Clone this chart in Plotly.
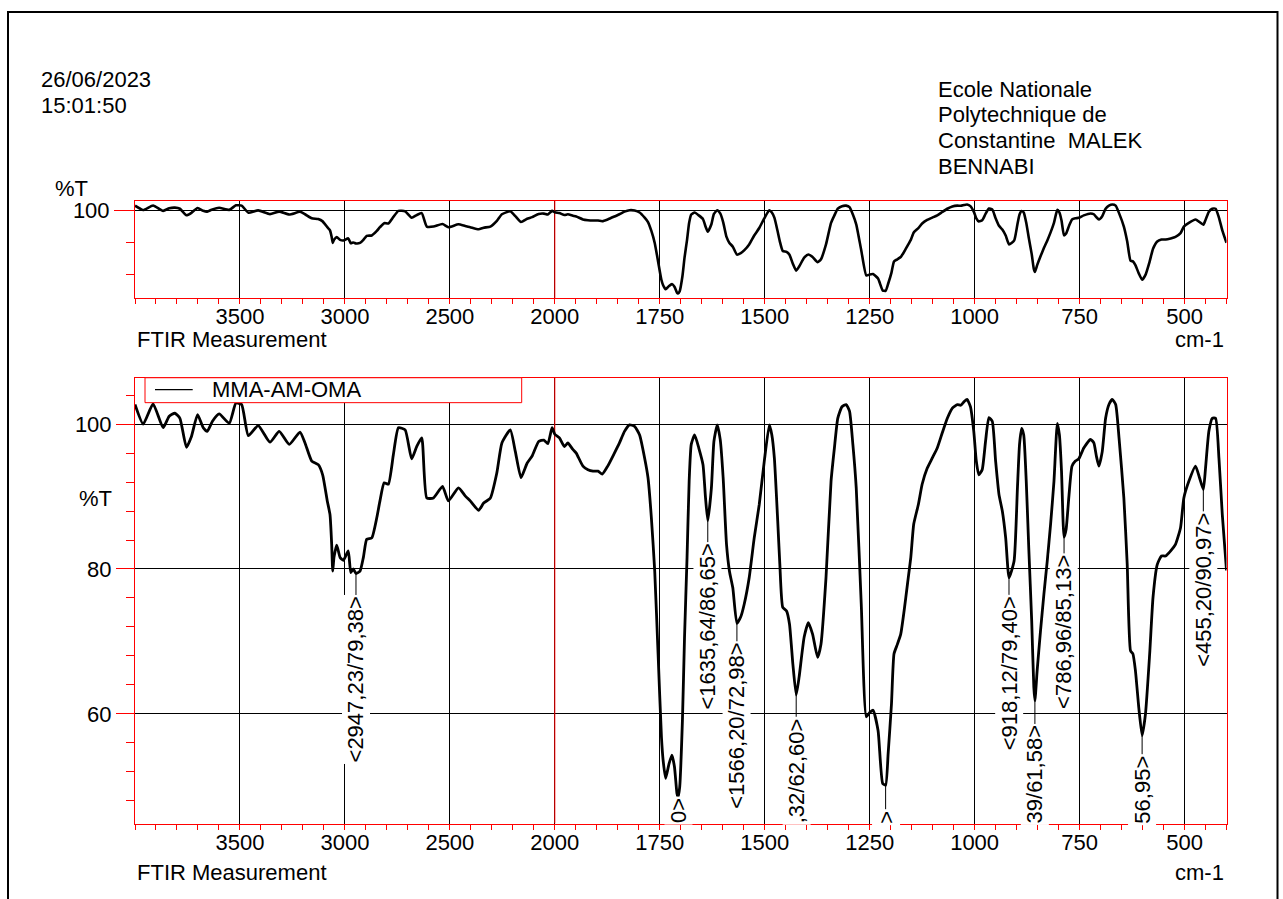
import plotly.graph_objects as go

# ---------------- data ----------------
wavenumber = [4000, 3961, 3914, 3866, 3837, 3810, 3786, 3755, 3731, 3702, 3675, 3656, 3631, 3599, 3551,
              3519, 3492, 3460, 3413, 3357, 3313, 3265, 3214, 3190, 3158, 3127, 3106, 3084, 3071, 3063,
              3058, 3052, 3039, 3023, 3007, 2984, 2972, 2960, 2947, 2928, 2912, 2896, 2872, 2848, 2833,
              2813, 2793, 2769, 2745, 2713, 2682, 2658, 2634, 2610, 2578, 2535, 2507, 2459, 2427, 2403,
              2363, 2339, 2307, 2276, 2252, 2212, 2188, 2161, 2132, 2108, 2077, 2052, 2033, 2013, 2000,
              1989, 1977, 1969, 1957, 1949, 1933, 1921, 1909, 1897, 1887, 1874, 1858, 1846, 1834, 1822,
              1810, 1798, 1786, 1778, 1770, 1762, 1754, 1746, 1742, 1736, 1728, 1721, 1715, 1709, 1706.5,
              1702.5, 1696, 1691, 1685, 1680, 1675, 1667, 1657, 1647, 1641, 1635.6, 1627, 1621, 1613, 1606,
              1599, 1591, 1584, 1576, 1566.2, 1557, 1549, 1537, 1525, 1513, 1501, 1489, 1483, 1477, 1469,
              1464, 1457, 1448, 1441, 1433, 1425, 1418, 1406, 1396, 1386, 1374, 1366, 1354, 1342, 1334,
              1326, 1316, 1306, 1298, 1290, 1282, 1270, 1258, 1250, 1242, 1230, 1219, 1212, 1206, 1198,
              1192, 1184, 1176, 1168, 1160, 1152, 1145, 1134, 1125, 1113, 1101, 1089, 1077, 1065, 1053,
              1041, 1033, 1025, 1018, 1010, 1002, 996, 990, 982, 974, 966, 958, 950, 942, 934,
              926, 918, 906, 898, 893, 888, 883, 877, 871, 864, 859, 856.4, 851, 843, 835,
              827, 819, 811, 803, 798, 793, 787, 782, 775, 768, 760, 752, 740, 724, 716,
              710, 704, 696, 688, 680, 672, 664, 656, 644.5, 636.5, 628.6, 623, 617, 609, 601,
              593, 583, 575, 565, 555, 545, 533, 521.5, 509.5, 501.6, 489.7, 473.8, 464.3, 455.2, 450,
              442, 434, 426, 418, 410, 400]
transmittance = [102.7, 100.0, 102.8, 99.5, 101.1, 101.5, 100.8, 96.8, 98.3, 101.3, 99.5, 99.0, 100.4, 101.4, 100.1,
                 102.9, 102.7, 98.4, 99.8, 97.5, 99.0, 97.2, 98.9, 97.4, 94.9, 94.4, 93.0, 89.4, 87.5, 83.4,
                 79.7, 81.6, 83.3, 81.6, 81.2, 82.5, 79.5, 80.0, 79.38, 79.7, 81.6, 84.1, 84.3, 87.1, 89.4,
                 91.9, 91.7, 95.8, 99.5, 99.2, 95.2, 96.9, 98.1, 89.8, 89.8, 91.4, 89.4, 91.2, 90.1, 89.4,
                 88.1, 89.1, 89.8, 93.3, 97.4, 99.2, 96.2, 92.6, 94.6, 95.6, 97.6, 97.8, 97.3, 99.5, 98.6,
                 98.1, 96.9, 97.4, 96.5, 96.0, 94.2, 93.7, 93.5, 93.5, 93.1, 94.2, 96.0, 97.4, 99.0, 99.9,
                 99.7, 98.5, 95.3, 92.6, 87.1, 79.7, 68.3, 56.8, 53.6, 51.1, 53.1, 54.3, 52.7, 49.0, 48.5,
                 49.9, 59.1, 70.6, 81.6, 92.1, 97.2, 98.5, 96.7, 94.4, 89.8, 86.65, 91.2, 97.6, 99.9, 97.9,
                 92.6, 83.4, 79.7, 77.4, 72.5, 73.4, 75.1, 78.8, 84.3, 88.9, 94.9, 99.9, 98.5, 95.3, 86.6,
                 80.7, 74.7, 74.2, 72.4, 66.9, 62.6, 65.1, 70.6, 72.6, 71.0, 67.8, 69.6, 78.8, 92.1, 96.7,
                 100.8, 102.4, 102.7, 101.8, 97.2, 91.2, 75.1, 59.6, 60.2, 60.5, 57.7, 50.4, 50.15, 54.5, 61.4,
                 68.3, 69.6, 71.0, 74.2, 77.9, 81.6, 86.2, 88.9, 91.7, 93.9, 95.3, 96.7, 98.8, 100.8, 102.2,
                 102.7, 102.6, 103.1, 103.4, 102.4, 99.0, 94.9, 93.0, 93.7, 97.6, 100.9, 100.4, 94.9, 90.3, 88.0,
                 84.3, 78.8, 81.1, 91.2, 97.2, 99.4, 98.5, 92.1, 82.9, 72.8, 63.7, 61.8, 66.0, 71.5, 76.5,
                 81.1, 86.2, 92.1, 100.1, 98.5, 93.5, 84.4, 85.5, 90.3, 94.2, 94.9, 95.2, 96.7, 97.9, 97.4,
                 95.6, 94.2, 96.2, 100.8, 102.7, 103.4, 102.7, 98.1, 89.8, 80.6, 68.7, 68.3, 66.0, 60.9, 57.0,
                 60.0, 68.3, 76.1, 80.6, 81.8, 81.8, 82.5, 83.4, 85.7, 89.8, 92.1, 94.2, 92.6, 90.97, 93.9,
                 99.0, 100.8, 100.8, 95.3, 87.5, 79.8]

x_tick_values = [3500, 3000, 2500, 2000, 1750, 1500, 1250, 1000, 750, 500]
x_tick_labels = ["3500", "3000", "2500", "2000", "1750", "1500", "1250", "1000", "750", "500"]
y_ticks_bottom = [100, 80, 60]
y_tick_labels_bottom = ["100", "80", "60"]
y_ticks_top = [100]
y_tick_labels_top = ["100"]
y_minor_top = [80, 60]

# fully visible peak labels
peak_wn = [2947.23, 1635.64, 1566.20, 918.12, 786.96, 455.20]
peak_val = [79.38, 86.65, 72.98, 79.40, 85.13, 90.97]
peak_text = ["<2947,23/79,38>", "<1635,64/86,65>", "<1566,20/72,98>",
             "<918,12/79,40>", "<786,96/85,13>", "<455,20/90,97>"]
# peak labels cut by the bottom of the panel (only their tail is visible)
clip_wn = [1706.5, 1425.0, 1212.0, 856.4, 601.0]
clip_val = [48.5, 62.6, 50.15, 61.8, 57.0]
clip_text = ["0>", ",32/62,60>", ">", "39/61,58>", "56,95>"]

series_name = "MMA-AM-OMA"

# ---------------- helpers ----------------
W, H = 1283, 899
FONT = "Liberation Sans, Arial, sans-serif"
RED = "#ff0000"


def tx(w):
    """FTIR split wavenumber scale: 4000-2000 compressed x2, 2000-400 expanded."""
    return (4000 - w) / 2.0 if w >= 2000 else 1000 + (2000 - w)


def px(x):
    return x / W


def py(y):
    return 1 - y / H


xs = [tx(w) for w in wavenumber]
X_RANGE = [tx(4000), tx(400)]
Y_BOT = [44.86, 106.4]
Y_TOP = [45.7, 105.8]

fig = go.Figure()
# red grid line at the 2000 cm-1 scale break (drawn under the spectrum)
fig.add_trace(go.Scatter(x=[tx(2000), tx(2000)], y=Y_TOP, mode="lines", xaxis="x", yaxis="y",
                         line=dict(color=RED, width=1), showlegend=False, hoverinfo="skip"))
fig.add_trace(go.Scatter(x=[tx(2000), tx(2000)], y=Y_BOT, mode="lines", xaxis="x2", yaxis="y2",
                         line=dict(color=RED, width=1), showlegend=False, hoverinfo="skip"))

fig.add_trace(go.Scatter(x=xs, y=transmittance, mode="lines", xaxis="x", yaxis="y",
                         line=dict(color="black", width=2.6, shape="spline", smoothing=0.5),
                         showlegend=False, hoverinfo="skip"))
fig.add_trace(go.Scatter(x=xs, y=transmittance, mode="lines", xaxis="x2", yaxis="y2", name=series_name,
                         line=dict(color="black", width=2.8, shape="spline", smoothing=0.5),
                         showlegend=False, hoverinfo="skip"))

# leader lines for peak labels
lx, ly = [], []
for w, v in zip(peak_wn, peak_val):
    lx += [tx(w), tx(w), None]
    ly += [v, v - 3.4, None]
for w, v in zip(clip_wn, clip_val):
    lx += [tx(w), tx(w), None]
    ly += [v, Y_BOT[0], None]
fig.add_trace(go.Scatter(x=lx, y=ly, mode="lines", xaxis="x2", yaxis="y2",
                         line=dict(color="black", width=1), showlegend=False, hoverinfo="skip"))

tickfont = dict(family=FONT, size=22, color="black")
xaxis_common = dict(range=X_RANGE, tickmode="array", tickvals=[tx(v) for v in x_tick_values],
                    ticktext=x_tick_labels, ticks="outside", ticklen=5, tickcolor=RED, tickwidth=1,
                    ticklabelstandoff=-6,
                    showgrid=True, gridcolor="black", gridwidth=1, zeroline=False,
                    showline=True, linecolor=RED, linewidth=1, mirror=True, tickfont=tickfont,
                    minor=dict(tickmode="linear", tick0=0, dtick=50, ticks="outside", ticklen=5,
                               tickcolor=RED, tickwidth=1, showgrid=False),
                    domain=[px(135), px(1226.5)], fixedrange=True)

layout = dict(
    width=W, height=H, autosize=False,
    margin=dict(l=0, r=0, t=0, b=0),
    paper_bgcolor="white", plot_bgcolor="white",
    font=dict(family=FONT, size=22, color="black"),
    xaxis=dict(xaxis_common, anchor="y"),
    xaxis2=dict(xaxis_common, anchor="y2"),
    yaxis=dict(range=Y_TOP, domain=[py(296), py(198.3)], anchor="x", tickmode="array",
               tickvals=y_ticks_top, ticktext=y_tick_labels_top, ticks="outside", ticklen=20,
               tickcolor=RED, showgrid=True, gridcolor="black", gridwidth=1, zeroline=False,
               showline=True, linecolor=RED, linewidth=1, mirror=True, tickfont=tickfont,
               minor=dict(tickmode="array", tickvals=y_minor_top, ticks="outside", ticklen=8,
                          tickcolor=RED, showgrid=False), fixedrange=True),
    yaxis2=dict(range=Y_BOT, domain=[py(823.3), py(376)], anchor="x2", tickmode="array",
                tickvals=y_ticks_bottom, ticktext=y_tick_labels_bottom, ticks="outside", ticklen=18,
                tickcolor=RED, showgrid=True, gridcolor="black", gridwidth=1, zeroline=False,
                showline=True, linecolor=RED, linewidth=1, mirror=True, tickfont=tickfont,
                minor=dict(tickmode="linear", tick0=0, dtick=4, ticks="outside", ticklen=8,
                           tickcolor=RED, showgrid=False), fixedrange=True),
    showlegend=False,
)
fig.update_layout(layout)

shapes = []
# legend box
shapes.append(dict(type="rect", xref="paper", yref="paper", x0=px(145), x1=px(521.7),
                   y0=py(401), y1=py(376), line=dict(color=RED, width=1), fillcolor="white", layer="above"))
shapes.append(dict(type="line", xref="paper", yref="paper", x0=px(155), x1=px(192.7),
                   y0=py(388), y1=py(388), line=dict(color="black", width=1.2), layer="above"))
# outer frame
shapes.append(dict(type="rect", xref="paper", yref="paper", x0=px(8), x1=px(1277.5),
                   y0=py(905), y1=py(9), line=dict(color="black", width=2), layer="above"))
fig.update_layout(shapes=shapes)

ann = []


def text_px(t, x, y, xanchor="left"):
    ann.append(dict(text=t, xref="paper", yref="paper", x=px(x), y=py(y), xanchor=xanchor,
                    yanchor="middle", showarrow=False, font=dict(family=FONT, size=22, color="black")))


text_px("26/06/2023", 38.5, 76.3)
text_px("15:01:50", 38.5, 102.9)
text_px("Ecole Nationale", 936, 86.3)
text_px("Polytechnique de", 936, 112)
text_px("Constantine  MALEK", 936, 138)
text_px("BENNABI", 936, 164)
text_px("%T", 53, 186)
text_px("FTIR Measurement", 135, 338)
text_px("cm-1", 1226, 338, xanchor="right")
text_px("%T", 114, 497, xanchor="right")
text_px("FTIR Measurement", 135, 872)
text_px("cm-1", 1226, 872, xanchor="right")
text_px(series_name, 210, 388)

for w, v, t in zip(peak_wn, peak_val, peak_text):
    ann.append(dict(text=t, xref="x2", yref="y2", x=tx(w), y=v, xanchor="center", yanchor="top",
                    yshift=-21, textangle=-90, showarrow=False, bgcolor="white", borderpad=1,
                    font=dict(family=FONT, size=22, color="black")))
for w, t in zip(clip_wn, clip_text):
    ann.append(dict(text=t, xref="x2", yref="y2", x=tx(w), y=Y_BOT[0], xanchor="center",
                    yanchor="bottom", yshift=-2, textangle=-90, showarrow=False, bgcolor="white",
                    borderpad=1, font=dict(family=FONT, size=22, color="black")))
fig.update_layout(annotations=ann)

fig.write_html("out.html", config={"displayModeBar": False, "staticPlot": True},
               post_script="document.body.style.margin='0';document.body.style.overflow='hidden';")
